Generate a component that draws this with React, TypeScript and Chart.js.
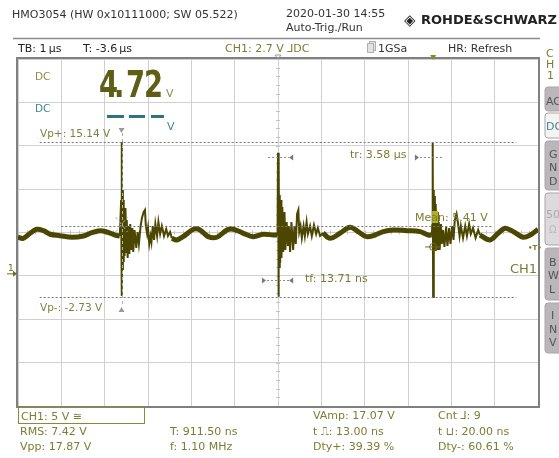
import React, { useEffect, useRef } from 'react';
import { Chart, registerables } from 'chart.js';

Chart.register(...registerables);

// ---- axes (1 µs/div horizontally, 5 V/div vertically, CH1 ground slightly above a grid line)
const X_MIN_US = -6;
const X_MAX_US = 6;
const X_DIV_US = 1;
const Y_MIN_V = -15.29;
const Y_MAX_V = 24.71;
const Y_DIV_V = 5;

// ---- CH1 trace: slow ripple segments (null = gap where a burst is drawn)
const rippleTimeUs = [
  -6.0, -5.88, -5.72, -5.57, -5.41, -5.26, -5.03, -4.76, -4.49, -4.3, -4.11, -3.95, -3.76, -3.65,
  -3.0,
  -2.45, -2.34, -2.19, -1.95, -1.8, -1.61, -1.41, -1.18, -1.03, -0.8, -0.57, -0.34, -0.11, -0.02,
  0.5,
  1.04, 1.2, 1.43, 1.66, 1.85, 2.04, 2.24, 2.43, 2.66, 2.97, 3.28, 3.47, 3.55,
  4.1,
  4.66, 4.89, 5.08, 5.24, 5.43, 5.66, 5.82, 6.0,
];
const rippleVolts = [
  4.16, 4.04, 4.62, 5.08, 4.92, 4.51, 4.34, 4.16, 4.31, 4.69, 4.92, 4.77, 4.42, 4.31,
  null,
  4.04, 3.85, 4.23, 5.08, 5.0, 4.23, 4.16, 5.0, 5.08, 4.62, 4.23, 4.51, 4.42, 4.42,
  null,
  4.65, 4.04, 4.62, 5.31, 4.81, 4.23, 4.42, 4.81, 5.0, 4.92, 4.81, 4.42, 4.42,
  null,
  4.42, 3.85, 4.62, 5.2, 4.81, 4.16, 4.42, 5.08,
];

// ---- CH1 trace: switching spikes with ringing
const burstTimeUs = [
  -3.65, -3.62, -3.61, -3.6, -3.59, -3.58, -3.57, -3.56, -3.55, -3.54, -3.52, -3.5, -3.49, -3.47,
  -3.45, -3.43, -3.41, -3.39, -3.36, -3.34, -3.31, -3.27, -3.24, -3.21, -3.17, -3.14, -3.1, -3.07,
  -3.05, -3.02, -3.0, -2.97, -2.94, -2.92, -2.89, -2.86, -2.83, -2.79, -2.76, -2.72, -2.68, -2.63,
  -2.58, -2.54, -2.49, -2.45,
  -1.0,
  -0.02, -0.01, 0.0, 0.01, 0.02, 0.03, 0.04, 0.05, 0.07, 0.08, 0.1, 0.12, 0.15, 0.17, 0.2, 0.23,
  0.25, 0.28, 0.31, 0.35, 0.38, 0.41, 0.44, 0.47, 0.49, 0.52, 0.55, 0.59, 0.62, 0.66, 0.69, 0.74,
  0.78, 0.83, 0.88, 0.92, 0.97, 1.04,
  2.0,
  3.55, 3.56, 3.57, 3.58, 3.59, 3.6, 3.62, 3.63, 3.64, 3.66, 3.68, 3.69, 3.71, 3.73, 3.76, 3.78,
  3.81, 3.84, 3.88, 3.91, 3.95, 3.98, 4.02, 4.05, 4.08, 4.12, 4.15, 4.19, 4.22, 4.27, 4.32, 4.36,
  4.41, 4.45, 4.5, 4.56, 4.62, 4.66,
];
const burstVolts = [
  4.31, 8.46, 15.14, -2.6, 9.61, 0.39, 8.46, 1.31, 7.08, 2.0, 7.54, 2.47, 6.15, 1.77,
  5.46, 2.23, 5.69, 2.69, 5.23, 2.46, 5.0, 2.92, 4.77, 3.39, 5.46, 6.38, 7.08, 7.31,
  5.46, 4.54, 5.23, 3.39, 4.31, 3.62, 5.46, 3.85, 5.69, 4.31, 5.92, 4.54, 5.46, 4.31,
  5.12, 4.31, 4.77, 4.04,
  null,
  4.42, 5.0, 13.91, -2.7, 13.11, 0.74, 9.04, 1.2, 8.46, 1.77, 7.65, 2.46, 7.08, 2.69, 5.92, 3.16,
  5.46, 2.46, 5.92, 2.69, 5.46, 3.39, 6.85, 7.31, 4.77, 5.46, 4.08, 5.46, 4.31, 5.92, 4.54, 5.46,
  4.31, 5.58, 4.54, 5.23, 4.31, 4.65,
  null,
  4.42, 5.58, 15.03, -2.73, 9.61, 2.35, 8.91, 2.69, 8.0, 2.92, 7.08, 2.69, 5.92, 2.69, 5.69, 3.39,
  5.0, 3.04, 5.35, 3.16, 5.23, 3.39, 5.46, 3.85, 6.15, 6.85, 5.92, 4.31, 5.46, 4.08, 5.46, 4.31,
  5.69, 4.54, 5.23, 4.08, 5.0, 4.42,
];

// ---- cursors / measurements
const peakCursorTimeUs = -3.61;
const vpPlusV = 15.14;
const vpMinusV = -2.73;
const meanV = 5.41;
const triggerTimeUs = 3.58;
const triggerLevelV = 2.7;
const riseCursorTimesUs = [0.35, 3.16];
const fallCursorTimesUs = [-0.37, 0.35];

const headerLabels = ['HMO3054 (HW 0x10111000; SW 05.522)', '2020-01-30 14:55', 'Auto-Trig./Run'];
const statusLabels = ['TB: 1\u2009µs', 'T: -3.6\u2009µs', 'CH1: 2.7 V \u2143DC', '1GSa', 'HR: Refresh'];
const measureCol1 = ['RMS: 7.42 V', 'Vpp: 17.87 V'];
const measureCol2 = ['T: 911.50 ns', 'f: 1.10 MHz'];
const measureCol3 = ['VAmp: 17.07 V', 't \u238D: 13.00 ns', 'Dty+: 39.39 %'];
const measureCol4 = ['Cnt \u2143: 9', 't \u2294: 20.00 ns', 'Dty-: 60.61 %'];

const TRACE = '#4b4600';
const OLIVE = '#7c7c34';
const TEAL = '#3d8790';
const FONT = '"DejaVu Sans", sans-serif';

function txt(ctx: CanvasRenderingContext2D, s: string, x: number, y: number, color: string, size = 11, weight = 'normal', align: CanvasTextAlign = 'left') {
  ctx.font = `${weight} ${size}px ${FONT}`;
  ctx.fillStyle = color;
  ctx.textAlign = align;
  ctx.textBaseline = 'alphabetic';
  ctx.fillText(s, x, y);
}

function hLine(ctx: CanvasRenderingContext2D, x1: number, x2: number, y: number, color: string, dash: number[] = [], w = 1) {
  ctx.save();
  ctx.strokeStyle = color;
  ctx.lineWidth = w;
  ctx.setLineDash(dash);
  ctx.beginPath();
  ctx.moveTo(x1, y);
  ctx.lineTo(x2, y);
  ctx.stroke();
  ctx.restore();
}

function tri(ctx: CanvasRenderingContext2D, pts: number[], color: string, fill = true) {
  ctx.beginPath();
  ctx.moveTo(pts[0], pts[1]);
  ctx.lineTo(pts[2], pts[3]);
  ctx.lineTo(pts[4], pts[5]);
  ctx.closePath();
  if (fill) { ctx.fillStyle = color; ctx.fill(); } else { ctx.strokeStyle = color; ctx.lineWidth = 1; ctx.stroke(); }
}

function button(ctx: CanvasRenderingContext2D, y1: number, y2: number, fill: string) {
  const x = 545, w = 20, r = 3;
  ctx.beginPath();
  ctx.moveTo(x + r, y1);
  ctx.lineTo(x + w, y1);
  ctx.lineTo(x + w, y2);
  ctx.lineTo(x + r, y2);
  ctx.quadraticCurveTo(x, y2, x, y2 - r);
  ctx.lineTo(x, y1 + r);
  ctx.quadraticCurveTo(x, y1, x + r, y1);
  ctx.closePath();
  ctx.fillStyle = fill;
  ctx.fill();
  ctx.strokeStyle = '#a9a6a9';
  ctx.lineWidth = 1;
  ctx.stroke();
}

const centerTicksPlugin = {
  id: 'centerTicks',
  beforeDatasetsDraw(chart: any) {
    const { ctx, scales } = chart;
    const xs = scales.x, ys = scales.y;
    const cy = ys.getPixelForValue(Y_MIN_V + 4 * Y_DIV_V);
    const cx = xs.getPixelForValue(0);
    ctx.save();
    ctx.strokeStyle = '#c4c4c4';
    ctx.lineWidth = 1;
    ctx.beginPath();
    for (let t = X_MIN_US; t <= X_MAX_US + 1e-6; t += X_DIV_US / 5) {
      const px = Math.round(xs.getPixelForValue(t)) + 0.5;
      ctx.moveTo(px, cy - 2);
      ctx.lineTo(px, cy + 2);
    }
    for (let v = Y_MIN_V; v <= Y_MAX_V + 1e-6; v += Y_DIV_V / 5) {
      const py = Math.round(ys.getPixelForValue(v)) + 0.5;
      ctx.moveTo(cx - 2, py);
      ctx.lineTo(cx + 2, py);
    }
    ctx.stroke();
    ctx.restore();
  },
};

const overlayPlugin = {
  id: 'scopeOverlay',
  afterDraw(chart: any) {
    const { ctx, chartArea: a, scales } = chart;
    const xs = scales.x, ys = scales.y;
    ctx.save();

    // frame
    ctx.strokeStyle = '#808080';
    ctx.lineWidth = 2;
    ctx.strokeRect(a.left - 1, a.top - 1, a.right - a.left + 2, a.bottom - a.top + 2);

    // header
    txt(ctx, headerLabels[0], 12, 18, '#333');
    txt(ctx, headerLabels[1], 286, 17, '#333');
    txt(ctx, headerLabels[2], 286, 31, '#333');
    txt(ctx, '\u25C8', 404, 25, '#222', 15, 'bold');
    txt(ctx, 'ROHDE&SCHWARZ', 421, 24, '#222', 13, 'bold');
    hLine(ctx, 13, 540, 38.5, '#8a8a8a', [], 1.5);
    txt(ctx, statusLabels[0], 18, 52, '#222');
    txt(ctx, statusLabels[1], 83, 52, '#222');
    txt(ctx, statusLabels[2], 225, 52, OLIVE);
    ctx.fillStyle = '#e2e2e2';
    ctx.strokeStyle = '#b0b0b0';
    ctx.lineWidth = 1;
    ctx.fillRect(369.5, 41.5, 6, 9); ctx.strokeRect(369.5, 41.5, 6, 9);
    ctx.fillRect(367.5, 43.5, 6, 9); ctx.strokeRect(367.5, 43.5, 6, 9);
    txt(ctx, statusLabels[3], 378, 52, '#333');
    txt(ctx, statusLabels[4], 448, 52, '#333');
    const cx0 = xs.getPixelForValue(0);
    tri(ctx, [cx0 - 3, 55, cx0 + 3, 55, cx0, 59], '#999', false);
    const trigX = xs.getPixelForValue(triggerTimeUs);
    tri(ctx, [trigX - 3, 55, trigX + 3, 55, trigX, 60], '#8a8a20');

    // right side panel
    txt(ctx, 'C', 546, 57, OLIVE);
    txt(ctx, 'H', 546, 68, OLIVE);
    txt(ctx, '1', 547, 79, OLIVE);
    button(ctx, 87, 111, '#bab6ba');
    txt(ctx, 'AC', 546, 105, '#555');
    button(ctx, 113, 138, '#f4f4f4');
    txt(ctx, 'DC', 546, 130, TEAL);
    button(ctx, 141, 190, '#bab6ba');
    txt(ctx, 'G', 549, 158, '#555'); txt(ctx, 'N', 549, 171, '#555'); txt(ctx, 'D', 549, 185, '#555');
    button(ctx, 193, 245, '#dcdadc');
    txt(ctx, '50', 546, 218, '#aaa'); txt(ctx, '\u03A9', 549, 233, '#bbb', 10);
    button(ctx, 248, 300, '#bab6ba');
    txt(ctx, 'B', 549, 266, '#555'); txt(ctx, 'W', 548, 279, '#555'); txt(ctx, 'L', 549, 293, '#555');
    button(ctx, 303, 353, '#bab6ba');
    txt(ctx, 'I', 551, 319, '#555'); txt(ctx, 'N', 549, 333, '#555'); txt(ctx, 'V', 549, 346, '#555');

    // DC readouts
    txt(ctx, 'DC', 35, 80, '#8c8c48', 10.5);
    const digits = [['4', 99], ['.', 114], ['7', 126], ['2', 144]] as [string, number][];
    digits.forEach(([d, x]) => {
      ctx.save();
      ctx.translate(x, 97);
      ctx.scale(0.72, 1);
      txt(ctx, d, 0, 0, '#5e5e16', 38, 'bold');
      ctx.restore();
    });
    txt(ctx, 'V', 166, 97, '#8c8c48', 11);
    txt(ctx, 'DC', 35, 112, TEAL, 10.5);
    ctx.fillStyle = '#2e7479';
    ctx.fillRect(107, 115, 17, 3);
    ctx.fillRect(129, 115, 16, 3);
    ctx.fillRect(151, 115, 13, 3);
    txt(ctx, 'V', 167, 130, TEAL, 11);

    // peak cursors
    const pkX = xs.getPixelForValue(peakCursorTimeUs);
    const yPlus = ys.getPixelForValue(vpPlusV);
    const yMinus = ys.getPixelForValue(vpMinusV);
    const yMean = ys.getPixelForValue(meanV);
    hLine(ctx, xs.getPixelForValue(-5.5), xs.getPixelForValue(5.5), Math.round(yPlus) + 0.5, '#777', [2, 2]);
    hLine(ctx, xs.getPixelForValue(-5.5), xs.getPixelForValue(5.5), Math.round(yMinus) + 0.5, '#777', [2, 2]);
    hLine(ctx, xs.getPixelForValue(-5.0), xs.getPixelForValue(4.95), Math.round(yMean) + 0.5, '#777', [2, 2]);
    ctx.save();
    ctx.strokeStyle = '#b0b0b0';
    ctx.setLineDash([3, 3]);
    ctx.beginPath();
    ctx.moveTo(Math.round(pkX) + 0.5, 133);
    ctx.lineTo(Math.round(pkX) + 0.5, 306);
    ctx.moveTo(pkX - 6, 217); ctx.lineTo(pkX + 6, 232);
    ctx.moveTo(pkX - 6, 232); ctx.lineTo(pkX + 6, 217);
    ctx.stroke();
    ctx.restore();
    tri(ctx, [pkX - 3, 128, pkX + 3, 128, pkX, 133], '#9a9a9a');
    tri(ctx, [pkX - 3, 312, pkX + 3, 312, pkX, 307], '#9a9a9a');
    txt(ctx, 'Vp+: 15.14 V', 40, 137, '#80803e', 10.5);
    txt(ctx, 'Vp-: -2.73 V', 40, 311, '#80803e', 10.5);

    // rise / fall cursors
    const trY = 157.5;
    const r1 = xs.getPixelForValue(riseCursorTimesUs[0]);
    const r2 = xs.getPixelForValue(riseCursorTimesUs[1]);
    hLine(ctx, r1 - 25, r1 - 4, trY, '#888', [2, 2]);
    tri(ctx, [r1 - 4, trY, r1, trY - 3, r1, trY + 3], '#777');
    tri(ctx, [r2 + 4, trY, r2, trY - 3, r2, trY + 3], '#777');
    hLine(ctx, r2 + 5, r2 + 28, trY, '#888', [2, 2]);
    txt(ctx, 'tr: 3.58 µs', 350, 158, OLIVE, 11);
    const tfY = 280.5;
    const f1 = xs.getPixelForValue(fallCursorTimesUs[0]);
    const f2 = xs.getPixelForValue(fallCursorTimesUs[1]);
    tri(ctx, [f1 + 4, tfY, f1, tfY - 3, f1, tfY + 3], '#777');
    hLine(ctx, f1 + 5, f2 - 4, tfY, '#888', [2, 2]);
    tri(ctx, [f2 - 4, tfY, f2, tfY - 3, f2, tfY + 3], '#777');
    txt(ctx, 'tf: 13.71 ns', 305, 282, OLIVE, 11);

    // mean label + highlight at 3rd spike
    const s3 = xs.getPixelForValue(triggerTimeUs);
    ctx.fillStyle = 'rgba(196,196,40,0.85)';
    ctx.fillRect(s3 - 1, 211, 6, 12);
    txt(ctx, 'Mean: 5.41 V', 415, 221, OLIVE, 11);
    const tlY = ys.getPixelForValue(triggerLevelV);
    ctx.strokeStyle = '#6e6a20';
    ctx.lineWidth = 1;
    ctx.beginPath();
    ctx.arc(s3, tlY - 3, 3.5, 0, Math.PI * 2);
    ctx.moveTo(s3 - 8, tlY - 3); ctx.lineTo(s3 + 8, tlY - 3);
    ctx.stroke();
    txt(ctx, '\u2022T\u2022', 528, tlY, '#7c7c34', 7, 'bold');
    txt(ctx, 'CH1', 510, 273, OLIVE, 13);

    // ground marker
    const g = ys.getPixelForValue(0);
    txt(ctx, '1', 8, g - 2, '#6e6e20', 9);
    ctx.strokeStyle = '#6e6e20';
    ctx.beginPath();
    ctx.moveTo(7, g + 0.5); ctx.lineTo(16, g + 0.5);
    ctx.stroke();
    tri(ctx, [17, g + 0.5, 13, g - 2.5, 13, g + 3.5], '#6e6e20');

    // footer
    ctx.strokeStyle = '#8a8a3a';
    ctx.lineWidth = 1;
    ctx.strokeRect(18.5, 407.5, 126, 16);
    txt(ctx, 'CH1: 5 V \u2245', 21, 420, OLIVE);
    measureCol1.forEach((s, i) => txt(ctx, s, 20, 435 + i * 15, OLIVE));
    measureCol2.forEach((s, i) => txt(ctx, s, 170, 435 + i * 15, OLIVE));
    measureCol3.forEach((s, i) => txt(ctx, s, 313, 419 + i * 15.5, OLIVE));
    measureCol4.forEach((s, i) => txt(ctx, s, 438, 419 + i * 15.5, OLIVE));

    ctx.restore();
  },
};

export default function App() {
  const canvasRef = useRef<HTMLCanvasElement | null>(null);

  useEffect(() => {
    const canvas = canvasRef.current;
    if (!canvas) return;
    const ripple = rippleTimeUs.map((t, i) => ({ x: t, y: rippleVolts[i] }));
    const burst = burstTimeUs.map((t, i) => ({ x: t, y: burstVolts[i] }));
    const chart = new Chart(canvas, {
      type: 'line',
      data: {
        datasets: [
          {
            label: 'CH1 ripple',
            data: ripple as any,
            borderColor: TRACE,
            borderWidth: 5,
            tension: 0.35,
            pointRadius: 0,
            spanGaps: false,
          },
          {
            label: 'CH1 switching',
            data: burst as any,
            borderColor: TRACE,
            borderWidth: 2,
            tension: 0,
            pointRadius: 0,
            spanGaps: false,
          },
        ],
      },
      options: {
        responsive: false,
        animation: false,
        devicePixelRatio: 1,
        events: [],
        layout: { padding: { left: 18, top: 59, right: 21, bottom: 52 } },
        plugins: { legend: { display: false }, tooltip: { enabled: false }, title: { display: false } },
        scales: {
          x: {
            type: 'linear',
            min: X_MIN_US,
            max: X_MAX_US,
            ticks: { display: false, stepSize: X_DIV_US },
            grid: { color: '#d0d0d0', lineWidth: 1, drawTicks: false },
            border: { display: false },
          },
          y: {
            type: 'linear',
            min: Y_MIN_V,
            max: Y_MAX_V,
            afterBuildTicks: (scale: any) => {
              const ticks = [];
              for (let i = 0; i <= 8; i++) ticks.push({ value: Y_MIN_V + i * Y_DIV_V });
              scale.ticks = ticks;
            },
            ticks: { display: false },
            grid: { color: '#d0d0d0', lineWidth: 1, drawTicks: false },
            border: { display: false },
          },
        },
      },
      plugins: [centerTicksPlugin, overlayPlugin],
    });
    return () => chart.destroy();
  }, []);

  return (
    <div style={{ position: 'fixed', left: 0, top: 0, width: 559, height: 458, background: '#fff' }}>
      <canvas ref={canvasRef} width={559} height={458} style={{ display: 'block' }} />
    </div>
  );
}
